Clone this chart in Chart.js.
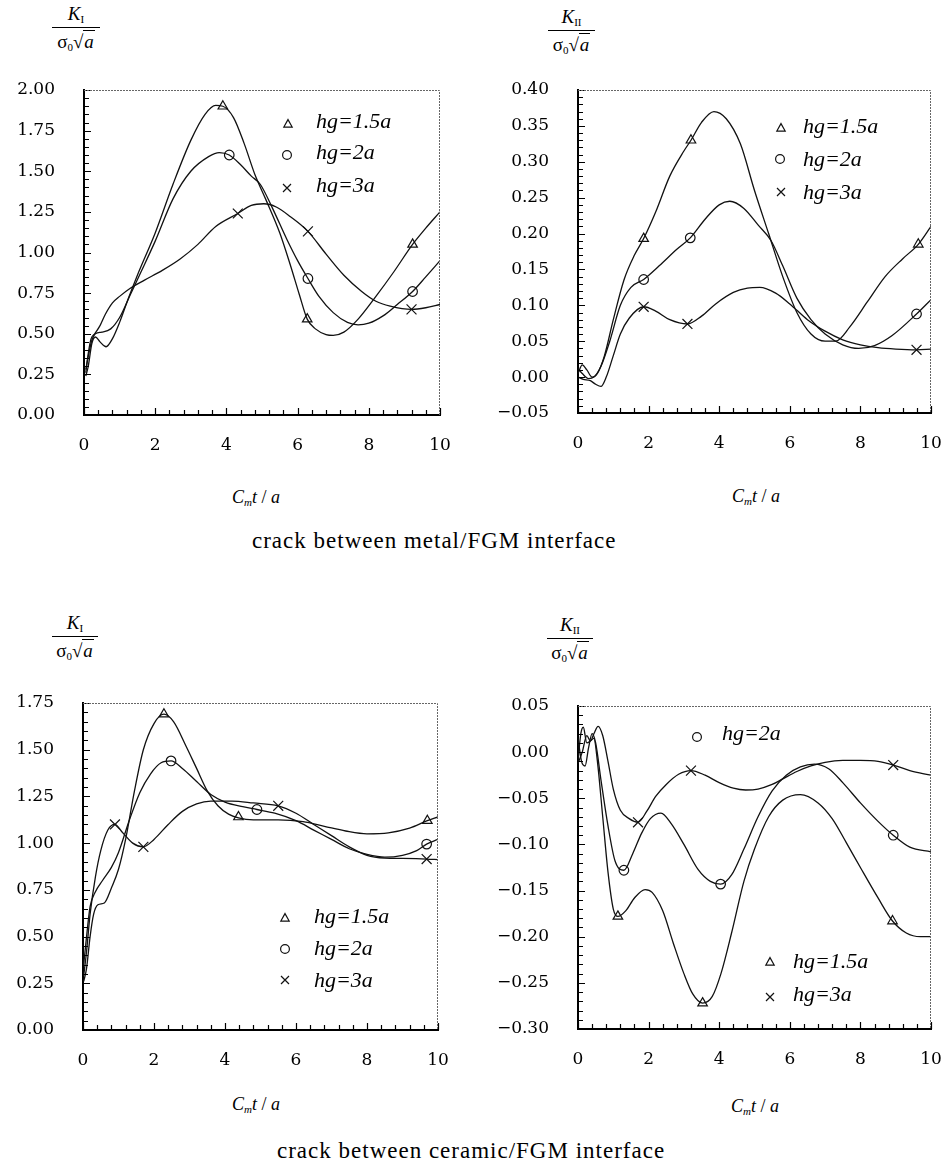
<!DOCTYPE html>
<html>
<head>
<meta charset="utf-8">
<script src="https://cdn.jsdelivr.net/npm/chart.js@4/dist/chart.umd.min.js"></script>
<style>
body { margin: 0; background: #fff; width: 943px; height: 1167px; position: relative; overflow: hidden;
       font-family: "Liberation Serif", "Times New Roman", Times, "DejaVu Serif", serif; color: #000; }
canvas { position: absolute; }
.frac { position: absolute; text-align: center; font-size: 19px; }
.frac .num { height: 26px; line-height: 26px; border-bottom: 1px solid #000; }
.frac .den { line-height: 24px; padding-top: 2px; }
.sb { font-size: 11px; position: relative; top: 3px; font-style: normal; }
.ov { border-top: 1px solid #000; padding: 0 1px; }
.xt { position: absolute; font-size: 18px; line-height: 18px; transform: translateX(-50%); white-space: nowrap; }
.cap { position: absolute; font-size: 23px; line-height: 23px; letter-spacing: 1px; white-space: nowrap; }
</style>
</head>
<body>

<div class="frac" style="left:52px;top:1px;width:48px">
  <div class="num"><i>K</i><span class="sb">I</span></div>
  <div class="den">σ<span class="sb">0</span>√<span class="ov"><i>a</i></span></div>
</div>
<div class="frac" style="left:548px;top:4px;width:47px">
  <div class="num"><i>K</i><span class="sb">II</span></div>
  <div class="den">σ<span class="sb">0</span>√<span class="ov"><i>a</i></span></div>
</div>
<div class="frac" style="left:52px;top:610px;width:46px">
  <div class="num"><i>K</i><span class="sb">I</span></div>
  <div class="den">σ<span class="sb">0</span>√<span class="ov"><i>a</i></span></div>
</div>
<div class="frac" style="left:547px;top:612px;width:46px">
  <div class="num"><i>K</i><span class="sb">II</span></div>
  <div class="den">σ<span class="sb">0</span>√<span class="ov"><i>a</i></span></div>
</div>

<div class="xt" style="left:256px;top:488px"><i>C</i><span class="sb" style="font-style:italic">m</span><i>t</i> / <i>a</i></div>
<div class="xt" style="left:756px;top:487px"><i>C</i><span class="sb" style="font-style:italic">m</span><i>t</i> / <i>a</i></div>
<div class="xt" style="left:256px;top:1095px"><i>C</i><span class="sb" style="font-style:italic">m</span><i>t</i> / <i>a</i></div>
<div class="xt" style="left:755px;top:1097px"><i>C</i><span class="sb" style="font-style:italic">m</span><i>t</i> / <i>a</i></div>

<div class="cap" style="left:252px;top:529px">crack between metal/FGM interface</div>
<div class="cap" style="left:277px;top:1139px">crack between ceramic/FGM interface</div>

<canvas id="metalKI"></canvas>
<canvas id="metalKII"></canvas>
<canvas id="ceramicKI"></canvas>
<canvas id="ceramicKII"></canvas>

<script>
// tick values
const xTickVals = [0, 2, 4, 6, 8, 10]
const metalKIy = [0, 0.25, 0.5, 0.75, 1, 1.25, 1.5, 1.75, 2]
const metalKIIy = [-0.05, 0, 0.05, 0.1, 0.15, 0.2, 0.25, 0.3, 0.35, 0.4]
const ceramicKIy = [0, 0.25, 0.5, 0.75, 1, 1.25, 1.5, 1.75]
const ceramicKIIy = [-0.3, -0.25, -0.2, -0.15, -0.1, -0.05, 0, 0.05]

const seriesLabels = ['hg=1.5a', 'hg=2a', 'hg=3a']

// crack between metal/FGM interface, K_I
const metalKI_15 = [[0.05, 0.24], [0.12, 0.3], [0.22, 0.44], [0.32, 0.48], [0.45, 0.45], [0.62, 0.42], [0.8, 0.47],
  [1.0, 0.57], [1.25, 0.72], [1.5, 0.86], [2.0, 1.12], [2.5, 1.42], [3.0, 1.69], [3.4, 1.85], [3.7, 1.905], [3.9, 1.9],
  [4.2, 1.83], [4.5, 1.67], [4.8, 1.48], [5.1, 1.33], [5.5, 1.12], [5.8, 0.92], [6.05, 0.74], [6.27, 0.59], [6.5, 0.53],
  [6.8, 0.495], [7.0, 0.49], [7.3, 0.51], [7.7, 0.59], [8.2, 0.73], [8.7, 0.88], [9.23, 1.05], [9.6, 1.15], [10, 1.25]]
const metalKI_2 = [[0.05, 0.28], [0.12, 0.36], [0.22, 0.46], [0.32, 0.5], [0.5, 0.51], [0.75, 0.53], [1.0, 0.6],
  [1.3, 0.74], [1.6, 0.88], [2.0, 1.07], [2.5, 1.33], [3.0, 1.5], [3.5, 1.59], [3.8, 1.615], [4.08, 1.6], [4.4, 1.54],
  [4.7, 1.47], [4.95, 1.42], [5.3, 1.27], [5.7, 1.08], [6.0, 0.95], [6.29, 0.84], [6.6, 0.73], [7.0, 0.63], [7.4, 0.57],
  [7.7, 0.555], [8.0, 0.565], [8.4, 0.61], [8.8, 0.68], [9.23, 0.76], [9.6, 0.85], [10, 0.95]]
const metalKI_3 = [[0.05, 0.26], [0.12, 0.38], [0.2, 0.47], [0.3, 0.5], [0.45, 0.55], [0.6, 0.62], [0.8, 0.69],
  [1.0, 0.73], [1.3, 0.78], [1.7, 0.83], [2.2, 0.89], [2.7, 0.96], [3.2, 1.05], [3.7, 1.16], [4.32, 1.24], [4.7, 1.29],
  [5.05, 1.3], [5.4, 1.28], [5.8, 1.22], [6.29, 1.13], [6.8, 0.99], [7.3, 0.86], [7.8, 0.76], [8.2, 0.7], [8.6, 0.67],
  [9.2, 0.65], [9.6, 0.66], [10, 0.68]]
const metalKI_15_marks = [[3.9, 1.9], [6.27, 0.59], [9.23, 1.05]]
const metalKI_2_marks = [[4.08, 1.6], [6.29, 0.84], [9.23, 0.76]]
const metalKI_3_marks = [[4.32, 1.24], [6.29, 1.13], [9.2, 0.65]]

// crack between metal/FGM interface, K_II
const metalKII_15 = [[0.0, 0.005], [0.12, 0.017], [0.25, 0.01], [0.4, 0.0], [0.55, 0.005], [0.75, 0.03], [1.0, 0.08],
  [1.3, 0.135], [1.6, 0.17], [1.86, 0.193], [2.2, 0.23], [2.6, 0.28], [3.0, 0.315], [3.2, 0.33], [3.5, 0.355],
  [3.85, 0.37], [4.2, 0.36], [4.6, 0.325], [5.0, 0.26], [5.4, 0.2], [5.8, 0.14], [6.2, 0.09], [6.6, 0.06], [7.0, 0.05],
  [7.3, 0.05], [7.7, 0.07], [8.2, 0.105], [8.7, 0.14], [9.2, 0.165], [9.64, 0.185], [10, 0.21]]
const metalKII_2 = [[0.0, 0.012], [0.12, 0.005], [0.3, -0.002], [0.45, 0.0], [0.65, 0.015], [0.9, 0.05], [1.2, 0.1],
  [1.5, 0.125], [1.86, 0.136], [2.3, 0.155], [2.8, 0.178], [3.18, 0.194], [3.6, 0.22], [4.0, 0.24], [4.3, 0.245],
  [4.7, 0.235], [5.1, 0.212], [5.47, 0.19], [5.8, 0.155], [6.2, 0.11], [6.6, 0.08], [7.0, 0.06], [7.5, 0.045],
  [7.95, 0.04], [8.4, 0.044], [8.9, 0.058], [9.59, 0.088], [10, 0.108]]
const metalKII_3 = [[0.0, 0.0], [0.15, -0.003], [0.35, -0.005], [0.5, -0.01], [0.65, -0.013], [0.8, 0.0], [1.0, 0.03],
  [1.2, 0.06], [1.45, 0.082], [1.86, 0.098], [2.2, 0.092], [2.6, 0.08], [3.1, 0.074], [3.5, 0.085], [3.9, 0.102],
  [4.4, 0.118], [4.8, 0.124], [5.15, 0.125], [5.6, 0.117], [6.0, 0.102], [6.5, 0.08], [7.0, 0.064], [7.5, 0.052],
  [8.0, 0.045], [8.5, 0.041], [9.0, 0.039], [9.59, 0.038], [10, 0.039]]
const metalKII_15_marks = [[1.86, 0.193], [3.2, 0.33], [9.64, 0.185]]
const metalKII_2_marks = [[1.86, 0.136], [3.18, 0.194], [9.59, 0.088]]
const metalKII_3_marks = [[1.86, 0.098], [3.1, 0.074], [9.59, 0.038]]

// crack between ceramic/FGM interface, K_I
const ceramicKI_15 = [[0.02, 0.26], [0.1, 0.33], [0.2, 0.5], [0.3, 0.62], [0.42, 0.67], [0.6, 0.68], [0.8, 0.76],
  [1.0, 0.86], [1.2, 1.02], [1.45, 1.28], [1.7, 1.5], [2.0, 1.64], [2.28, 1.69], [2.55, 1.65], [2.9, 1.52], [3.2, 1.4],
  [3.5, 1.28], [3.8, 1.2], [4.1, 1.155], [4.38, 1.135], [4.8, 1.125], [5.5, 1.125], [6.2, 1.115], [6.8, 1.09],
  [7.4, 1.065], [8.0, 1.05], [8.6, 1.055], [9.2, 1.08], [9.7, 1.12], [10, 1.14]]
const ceramicKI_2 = [[0.02, 0.35], [0.1, 0.5], [0.2, 0.66], [0.35, 0.74], [0.55, 0.8], [0.8, 0.87], [1.0, 0.95],
  [1.3, 1.12], [1.6, 1.27], [1.9, 1.37], [2.2, 1.43], [2.48, 1.44], [2.8, 1.4], [3.2, 1.33], [3.6, 1.26], [4.0, 1.22],
  [4.5, 1.195], [4.9, 1.18], [5.4, 1.16], [6.0, 1.12], [6.5, 1.07], [7.0, 1.02], [7.5, 0.97], [8.0, 0.94], [8.5, 0.925],
  [9.0, 0.935], [9.4, 0.96], [9.68, 0.995], [10, 1.02]]
const ceramicKI_3 = [[0.02, 0.29], [0.1, 0.42], [0.2, 0.62], [0.35, 0.82], [0.5, 0.96], [0.7, 1.07], [0.9, 1.1],
  [1.1, 1.06], [1.4, 1.0], [1.7, 0.98], [2.0, 1.02], [2.4, 1.1], [2.8, 1.17], [3.2, 1.21], [3.6, 1.225], [4.2, 1.225],
  [4.8, 1.215], [5.5, 1.2], [6.0, 1.16], [6.5, 1.1], [7.0, 1.04], [7.5, 0.98], [8.0, 0.935], [8.5, 0.92], [9.0, 0.918],
  [9.68, 0.915], [10, 0.912]]
const ceramicKI_15_marks = [[2.28, 1.69], [4.38, 1.14], [9.7, 1.12]]
const ceramicKI_2_marks = [[2.48, 1.44], [4.9, 1.18], [9.68, 0.995]]
const ceramicKI_3_marks = [[0.9, 1.1], [1.7, 0.98], [5.5, 1.2], [9.68, 0.915]]

// crack between ceramic/FGM interface, K_II
const ceramicKII_15 = [[0.0, -0.01], [0.08, 0.02], [0.15, 0.027], [0.25, 0.01], [0.35, 0.012], [0.45, 0.015],
  [0.55, -0.01], [0.7, -0.07], [0.85, -0.13], [1.0, -0.17], [1.13, -0.178], [1.35, -0.172], [1.6, -0.158], [1.9, -0.149],
  [2.1, -0.152], [2.4, -0.172], [2.7, -0.207], [3.0, -0.24], [3.25, -0.262], [3.53, -0.272], [3.8, -0.265], [4.05, -0.24],
  [4.35, -0.196], [4.7, -0.14], [5.0, -0.105], [5.4, -0.07], [5.8, -0.052], [6.3, -0.046], [6.8, -0.055], [7.2, -0.072],
  [7.6, -0.098], [8.0, -0.125], [8.5, -0.158], [8.91, -0.183], [9.3, -0.196], [9.7, -0.2], [10, -0.2]]
const ceramicKII_2 = [[0.0, 0.015], [0.1, -0.01], [0.2, -0.015], [0.3, 0.005], [0.4, 0.02], [0.5, 0.01], [0.65, -0.03],
  [0.85, -0.08], [1.05, -0.118], [1.3, -0.128], [1.55, -0.11], [1.8, -0.088], [2.05, -0.072], [2.35, -0.066],
  [2.65, -0.078], [3.0, -0.1], [3.4, -0.127], [3.75, -0.14], [4.04, -0.143], [4.35, -0.133], [4.7, -0.105], [5.1, -0.07],
  [5.5, -0.042], [5.9, -0.025], [6.3, -0.016], [6.7, -0.013], [7.1, -0.018], [7.5, -0.033], [8.0, -0.055], [8.5, -0.075],
  [8.93, -0.09], [9.4, -0.103], [10, -0.108]]
const ceramicKII_3 = [[0.0, -0.012], [0.12, 0.0], [0.25, 0.018], [0.35, 0.012], [0.45, 0.02], [0.57, 0.028], [0.7, 0.018],
  [0.85, -0.01], [1.0, -0.04], [1.2, -0.063], [1.45, -0.072], [1.7, -0.076], [1.95, -0.064], [2.2, -0.048], [2.5, -0.035],
  [2.85, -0.024], [3.2, -0.02], [3.6, -0.025], [4.0, -0.033], [4.4, -0.039], [4.75, -0.041], [5.1, -0.04], [5.5, -0.035],
  [5.8, -0.029], [6.2, -0.021], [6.6, -0.015], [7.0, -0.011], [7.5, -0.009], [8.0, -0.009], [8.5, -0.01], [8.93, -0.014],
  [9.4, -0.02], [10, -0.025]]
const ceramicKII_15_marks = [[1.13, -0.178], [3.53, -0.272], [8.91, -0.183]]
const ceramicKII_2_marks = [[1.3, -0.128], [4.04, -0.143], [8.93, -0.09]]
const ceramicKII_3_marks = [[1.7, -0.076], [3.2, -0.02], [8.93, -0.014]]

// layout: chart area [left, top, right, bottom] in page px, legend rows [series, markX, markY, textX, textBaseline] inside area
const styles = ['triangle', 'circle', 'crossRot']
const radius = { triangle: 5.5, circle: 4.8, crossRot: 7 }
const panels = [
  { id: 'metalKI', area: [84, 90, 440, 415], y: [0, 2], yTicks: metalKIy, yMinor: 0.05,
    lines: [metalKI_15, metalKI_2, metalKI_3], marks: [metalKI_15_marks, metalKI_2_marks, metalKI_3_marks],
    legend: [[0, 204, 34, 232, 38], [1, 203, 65, 232, 69], [2, 203, 98, 232, 102]] },
  { id: 'metalKII', area: [578, 90, 931, 413], y: [-0.05, 0.4], yTicks: metalKIIy, yMinor: 0.01,
    lines: [metalKII_15, metalKII_2, metalKII_3], marks: [metalKII_15_marks, metalKII_2_marks, metalKII_3_marks],
    legend: [[0, 203, 38, 225, 43], [1, 202, 69, 225, 76], [2, 203, 102, 225, 109]] },
  { id: 'ceramicKI', area: [83, 703, 438, 1030], y: [0, 1.75], yTicks: ceramicKIy, yMinor: 0.05,
    lines: [ceramicKI_15, ceramicKI_2, ceramicKI_3], marks: [ceramicKI_15_marks, ceramicKI_2_marks, ceramicKI_3_marks],
    legend: [[0, 202, 215, 231, 220], [1, 202, 246, 231, 252], [2, 202, 277, 231, 284]] },
  { id: 'ceramicKII', area: [578, 706, 931, 1029], y: [-0.3, 0.05], yTicks: ceramicKIIy, yMinor: 0.01,
    lines: [ceramicKII_15, ceramicKII_2, ceramicKII_3], marks: [ceramicKII_15_marks, ceramicKII_2_marks, ceramicKII_3_marks],
    legend: [[1, 119, 31, 144, 34], [0, 192, 256, 215, 262], [2, 192, 291, 215, 295]] }
]

const drawMark = (ctx, style, x, y, r) => {
  ctx.beginPath()
  if (style === 'triangle') {
    ctx.moveTo(x, y - r)
    ctx.lineTo(x + r * 0.95, y + r * 0.7)
    ctx.lineTo(x - r * 0.95, y + r * 0.7)
    ctx.closePath()
  } else if (style === 'circle') {
    ctx.arc(x, y, r, 0, Math.PI * 2)
  } else {
    ctx.moveTo(x - r, y - r); ctx.lineTo(x + r, y + r)
    ctx.moveTo(x + r, y - r); ctx.lineTo(x - r, y + r)
  }
  ctx.stroke()
}

// inward tick marks plus the thin dotted top/right frame
const frameTicks = (p) => ({
  id: 'frameTicks',
  afterDraw(chart) {
    const { ctx, chartArea: a, scales: { x, y } } = chart
    ctx.save()
    ctx.strokeStyle = '#000'
    ctx.lineWidth = 1.2
    ctx.beginPath()
    const nx = Math.round((x.max - x.min) / 0.4)
    for (let i = 0; i <= nx; i++) {
      const px = Math.round(x.getPixelForValue(x.min + i * 0.4)) + 0.5
      const len = i % 5 === 0 ? 7 : 5
      ctx.moveTo(px, a.bottom)
      ctx.lineTo(px, a.bottom - len)
    }
    const ny = Math.round((y.max - y.min) / p.yMinor)
    for (let i = 0; i <= ny; i++) {
      const py = Math.round(y.getPixelForValue(y.min + i * p.yMinor)) + 0.5
      const len = i % 5 === 0 ? 7 : 5
      ctx.moveTo(a.left, py)
      ctx.lineTo(a.left + len, py)
    }
    ctx.stroke()
    ctx.strokeStyle = '#666'
    ctx.lineWidth = 1
    ctx.setLineDash([2, 1])
    ctx.beginPath()
    ctx.moveTo(a.left, a.top + 0.5)
    ctx.lineTo(a.right - 0.5, a.top + 0.5)
    ctx.lineTo(a.right - 0.5, a.bottom)
    ctx.stroke()
    ctx.restore()
  }
})

const insideLegend = (p) => ({
  id: 'insideLegend',
  afterDraw(chart) {
    const { ctx, chartArea: a } = chart
    ctx.save()
    ctx.strokeStyle = '#111'
    ctx.lineWidth = 1.2
    ctx.fillStyle = '#000'
    ctx.font = 'italic 22px "Liberation Serif", "Times New Roman", Times, "DejaVu Serif", serif'
    ctx.textBaseline = 'alphabetic'
    p.legend.forEach(([s, mx, my, tx, ty]) => {
      drawMark(ctx, styles[s], a.left + mx, a.top + my, styles[s] === 'crossRot' ? 4 : 4.4)
      ctx.fillText(seriesLabels[s], a.left + tx, a.top + ty)
    })
    ctx.restore()
  }
})

const tickFont = { family: '"DejaVu Serif", "Liberation Serif", serif', size: 17 }
const padTop = 45
const padRight = 40
const axisH = 50
const axisW = 84

const makeChart = (p) => {
  const [l, t, r, b] = p.area
  const canvas = document.getElementById(p.id)
  canvas.width = axisW + (r - l) + padRight
  canvas.height = padTop + (b - t) + axisH
  canvas.style.left = (l - axisW) + 'px'
  canvas.style.top = (t - padTop) + 'px'

  let datasets = []
  p.lines.forEach((line, i) => {
    datasets.push({
      label: seriesLabels[i],
      data: line,
      borderColor: '#111',
      borderWidth: 1.3,
      pointRadius: 0,
      cubicInterpolationMode: 'monotone',
      fill: false
    })
    datasets.push({
      label: seriesLabels[i] + ' marks',
      data: p.marks[i],
      showLine: false,
      pointStyle: styles[i],
      pointRadius: radius[styles[i]],
      pointBorderColor: '#111',
      pointBackgroundColor: 'rgba(0,0,0,0)',
      pointBorderWidth: 1.2
    })
  })

  return new Chart(canvas, {
    type: 'line',
    data: { datasets: datasets },
    options: {
      responsive: false,
      animation: false,
      devicePixelRatio: 1,
      layout: { padding: { left: 0, top: padTop, right: padRight, bottom: 0 } },
      plugins: { legend: { display: false }, tooltip: { enabled: false } },
      scales: {
        x: {
          type: 'linear', min: 0, max: 10,
          afterFit: (s) => { s.height = axisH },
          afterBuildTicks: (s) => { s.ticks = xTickVals.map(v => ({ value: v })) },
          grid: { display: false, drawTicks: false },
          border: { color: '#000', width: 2 },
          ticks: { padding: 20, color: '#000', font: tickFont, maxRotation: 0, autoSkip: false,
                   callback: (v) => String(v) }
        },
        y: {
          type: 'linear', min: p.y[0], max: p.y[1],
          afterFit: (s) => { s.width = axisW },
          afterBuildTicks: (s) => { s.ticks = p.yTicks.map(v => ({ value: v })) },
          grid: { display: false, drawTicks: false },
          border: { color: '#000', width: 2 },
          ticks: { padding: 29, color: '#000', font: tickFont, autoSkip: false,
                   callback: (v) => v.toFixed(2).replace('-', '\u2212') }
        }
      }
    },
    plugins: [frameTicks(p), insideLegend(p)]
  })
}

panels.forEach(makeChart)
</script>
</body>
</html>
